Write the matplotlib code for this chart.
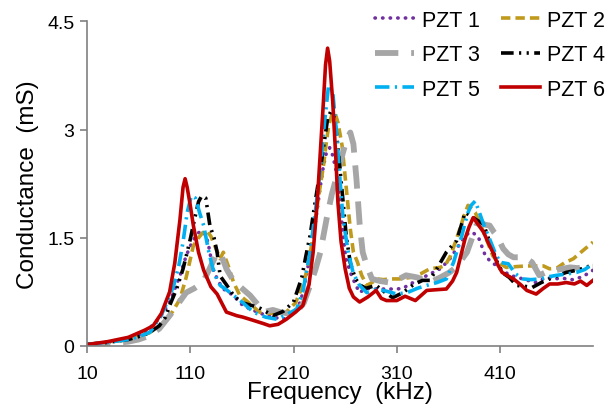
import numpy as np
import matplotlib
matplotlib.use("Agg")
import matplotlib.pyplot as plt

plt.rcParams['font.family'] = ['Liberation Sans', 'DejaVu Sans']

# PZT 1 (purple, dotted)
f1 = [10, 30, 50, 60, 70, 80, 90, 100, 106, 112, 118, 122, 127, 132, 137, 142, 148, 155, 161, 170, 184, 200, 210, 217, 222, 228, 233, 236, 239, 242, 245, 248, 251, 253, 256, 258, 261, 265, 270, 274, 280, 287, 294, 303, 310, 316, 323, 332, 342, 350, 355, 362, 368, 374, 379, 383, 389, 395, 400, 407, 414, 420, 432, 444, 455, 462, 470, 480, 490, 500]
v1 = [0.02, 0.05, 0.10, 0.15, 0.24, 0.38, 0.61, 0.97, 1.25, 1.45, 1.57, 1.60, 1.45, 1.07, 0.90, 0.79, 0.74, 0.65, 0.56, 0.50, 0.42, 0.37, 0.45, 0.62, 0.95, 1.40, 1.90, 2.22, 2.50, 2.69, 2.75, 2.64, 2.45, 2.22, 1.85, 1.53, 1.20, 1.02, 0.85, 0.74, 0.80, 0.79, 0.79, 0.79, 0.79, 0.80, 0.86, 0.92, 1.00, 1.05, 1.11, 1.22, 1.35, 1.48, 1.56, 1.58, 1.51, 1.28, 1.18, 1.11, 1.03, 0.98, 0.93, 0.88, 0.95, 0.93, 0.94, 0.92, 0.96, 1.05]

# PZT 2 (gold, dashed)
f2 = [10, 30, 50, 60, 70, 80, 87, 93, 100, 106, 113, 118, 122, 126, 130, 134, 139, 142, 147, 152, 158, 165, 177, 190, 203, 212, 219, 224, 229, 234, 239, 242, 244, 247, 250, 253, 257, 261, 265, 268, 272, 276, 281, 286, 291, 297, 303, 313, 323, 333, 342, 352, 357, 362, 367, 371, 375, 379, 383, 386, 390, 394, 399, 403, 409, 416, 425, 436, 444, 452, 458, 465, 472, 481, 490, 500]
v2 = [0.02, 0.05, 0.09, 0.13, 0.18, 0.27, 0.37, 0.48, 0.65, 0.95, 1.39, 1.50, 1.57, 1.60, 1.52, 1.38, 1.21, 1.30, 1.10, 0.88, 0.70, 0.62, 0.47, 0.45, 0.47, 0.60, 0.84, 1.10, 1.53, 2.05, 2.50, 2.85, 3.05, 3.20, 3.24, 3.10, 2.78, 2.20, 1.62, 1.30, 1.16, 0.98, 0.84, 0.88, 0.93, 0.92, 0.93, 0.93, 0.95, 1.00, 1.07, 1.09, 1.12, 1.25, 1.45, 1.62, 1.80, 1.95, 1.90, 1.85, 1.72, 1.58, 1.40, 1.25, 1.15, 1.09, 1.10, 1.11, 1.11, 1.11, 1.07, 1.08, 1.15, 1.21, 1.32, 1.44]

# PZT 3 (grey, long dash)
f3 = [10, 30, 50, 60, 70, 80, 90, 98, 106, 114, 122, 128, 134, 139, 145, 152, 160, 168, 175, 181, 190, 197, 205, 213, 220, 226, 231, 236, 242, 247, 252, 258, 262, 265, 268, 271, 274, 277, 281, 286, 294, 303, 311, 319, 330, 342, 352, 361, 368, 373, 378, 383, 387, 392, 396, 400, 404, 407, 413, 418, 423, 428, 432, 437, 441, 448, 454, 461, 470, 478, 485, 491, 500]
v3 = [0.01, 0.03, 0.06, 0.09, 0.14, 0.24, 0.42, 0.58, 0.74, 0.80, 0.88, 1.05, 1.23, 1.30, 1.07, 0.90, 0.80, 0.70, 0.58, 0.47, 0.50, 0.47, 0.45, 0.47, 0.60, 0.84, 1.05, 1.30, 1.76, 2.10, 2.36, 2.69, 2.88, 2.96, 2.80, 2.30, 1.70, 1.30, 1.11, 0.93, 0.90, 0.88, 0.92, 0.98, 0.95, 0.88, 0.95, 1.02, 1.10, 1.20, 1.30, 1.50, 1.67, 1.70, 1.68, 1.67, 1.58, 1.53, 1.35, 1.27, 1.23, 1.23, 1.23, 1.20, 1.16, 0.98, 1.02, 1.04, 1.07, 1.09, 1.08, 1.09, 1.10]

# PZT 4 (black, dash-dot-dot)
f4 = [10, 30, 50, 60, 70, 80, 86, 90, 97, 103, 107, 110, 114, 118, 121, 125, 129, 133, 136, 139, 145, 152, 160, 170, 178, 190, 200, 210, 218, 222, 226, 231, 236, 240, 243, 246, 249, 252, 255, 258, 261, 265, 270, 275, 280, 285, 290, 298, 306, 316, 326, 335, 342, 350, 358, 364, 368, 372, 376, 380, 387, 394, 400, 406, 412, 419, 426, 433, 441, 450, 458, 466, 474, 484, 494, 500]
v4 = [0.02, 0.05, 0.09, 0.13, 0.18, 0.28, 0.40, 0.56, 0.80, 1.07, 1.30, 1.48, 1.75, 2.00, 2.08, 2.05, 1.67, 1.50, 1.30, 0.97, 0.85, 0.70, 0.60, 0.56, 0.52, 0.42, 0.48, 0.61, 0.95, 1.25, 1.53, 2.00, 2.45, 2.85, 3.15, 3.25, 3.20, 2.90, 2.45, 2.00, 1.53, 1.15, 0.93, 0.84, 0.80, 0.82, 0.84, 0.75, 0.67, 0.74, 0.85, 0.91, 0.91, 1.10, 1.30, 1.40, 1.46, 1.65, 1.85, 1.82, 1.75, 1.69, 1.44, 1.20, 1.02, 0.95, 0.84, 0.83, 0.81, 0.88, 0.93, 0.98, 1.02, 1.05, 1.09, 1.14]

# PZT 5 (light blue, long dash dot)
f5 = [10, 30, 50, 60, 71, 81, 88, 94, 99, 103, 107, 111, 115, 119, 123, 128, 132, 135, 139, 145, 152, 161, 171, 183, 194, 204, 213, 219, 226, 231, 236, 240, 244, 248, 252, 255, 258, 263, 268, 274, 281, 290, 300, 310, 320, 330, 339, 349, 358, 365, 369, 373, 376, 379, 382, 386, 390, 395, 400, 405, 410, 418, 425, 432, 440, 449, 457, 465, 475, 484, 492, 500]
v5 = [0.02, 0.05, 0.09, 0.13, 0.19, 0.40, 0.62, 0.84, 1.12, 1.44, 1.85, 2.08, 2.05, 1.85, 1.67, 1.30, 1.07, 0.95, 0.84, 0.78, 0.70, 0.60, 0.47, 0.40, 0.37, 0.44, 0.51, 0.75, 1.30, 1.85, 2.45, 3.10, 3.62, 3.52, 2.90, 2.30, 1.76, 1.30, 1.00, 0.84, 0.74, 0.79, 0.76, 0.72, 0.74, 0.80, 0.84, 0.88, 0.93, 1.16, 1.35, 1.53, 1.70, 1.85, 1.95, 2.01, 1.85, 1.65, 1.48, 1.30, 1.16, 1.14, 1.00, 0.93, 0.92, 0.93, 0.96, 0.98, 1.00, 1.02, 1.06, 1.14]

# PZT 6 (red, solid)
f6 = [10, 30, 50, 58, 66, 74, 82, 90, 95, 100, 103, 105, 107, 110, 113, 118, 123, 130, 136, 145, 155, 161, 170, 181, 187, 195, 203, 212, 219, 225, 229, 233, 236, 239, 241, 243, 245, 248, 251, 253, 256, 260, 264, 268, 274, 282, 290, 295, 300, 310, 318, 328, 339, 348, 358, 364, 368, 372, 376, 380, 384, 388, 394, 398, 403, 408, 412, 418, 423, 430, 436, 445, 452, 458, 466, 474, 482, 488, 494, 500]
v6 = [0.02, 0.06, 0.12, 0.17, 0.22, 0.28, 0.45, 0.75, 1.15, 1.75, 2.20, 2.32, 2.20, 1.95, 1.67, 1.30, 1.05, 0.82, 0.72, 0.47, 0.42, 0.40, 0.36, 0.31, 0.28, 0.30, 0.37, 0.47, 0.56, 0.85, 1.30, 2.00, 2.70, 3.40, 3.90, 4.13, 3.95, 3.38, 2.60, 1.99, 1.45, 1.07, 0.80, 0.68, 0.61, 0.68, 0.77, 0.66, 0.63, 0.63, 0.69, 0.63, 0.77, 0.78, 0.79, 0.90, 1.02, 1.25, 1.48, 1.65, 1.78, 1.70, 1.58, 1.45, 1.30, 1.12, 1.02, 0.97, 0.93, 0.85, 0.77, 0.72, 0.80, 0.86, 0.86, 0.88, 0.86, 0.90, 0.84, 0.91]

labels = ['PZT 1', 'PZT 2', 'PZT 3', 'PZT 4', 'PZT 5', 'PZT 6']
x_ticks = [10, 110, 210, 310, 410]
y_ticks = [0, 1.5, 3, 4.5]
y_tick_labels = ['0', '1.5', '3', '4.5']

fig = plt.figure(figsize=(6.11, 4.10), dpi=100)
ax = fig.add_axes([0.1424, 0.1537, 0.8281, 0.7915])

lines = []
l, = ax.plot(f1, v1, color='#7030A0', lw=2.6, linestyle=(0, (0.1, 2.0)), dash_capstyle='round')
lines.append(l)
l, = ax.plot(f2, v2, color='#C09A1C', lw=2.6, linestyle=(0, (2.6, 1.4)))
lines.append(l)
l, = ax.plot(f3, v3, color='#A6A6A6', lw=4.2, linestyle=(0, (4.0, 2.2)))
lines.append(l)
l, = ax.plot(f4, v4, color='black', lw=2.6, linestyle=(0, (3.5, 1.5, 0.6, 1.5, 0.6, 1.5)))
lines.append(l)
l, = ax.plot(f5, v5, color='#00B0F0', lw=2.6, linestyle=(0, (4.0, 1.5, 0.6, 1.5)))
lines.append(l)
l, = ax.plot(f6, v6, color='#C00000', lw=2.6, linestyle='-')
lines.append(l)

ax.set_xlim(10, 500)
ax.set_ylim(0, 4.5)
ax.set_xticks(x_ticks)
ax.set_yticks(y_ticks)
ax.set_yticklabels(y_tick_labels)
ax.tick_params(axis='both', labelsize=14, length=5, width=1.2, color='#808080', pad=4)
ax.tick_params(axis='x', pad=9)
for side in ['top', 'right']:
    ax.spines[side].set_visible(False)
for side in ['left', 'bottom']:
    ax.spines[side].set_color('#808080')
    ax.spines[side].set_linewidth(1.2)

ax.set_xlabel('Frequency  (kHz)', fontsize=17.5, labelpad=-1)
ax.set_ylabel('Conductance  (mS)', fontsize=17.5, labelpad=6)

# legend is filled column by column, so reorder to get PZT 1 | PZT 2 on the first row
leg = ax.legend([lines[i] for i in [0, 2, 4, 1, 3, 5]],
                [labels[i] for i in [0, 2, 4, 1, 3, 5]],
                ncol=2, frameon=False, fontsize=15.5,
                loc='upper right', bbox_to_anchor=(1.012, 1.005),
                bbox_transform=fig.transFigure, borderpad=0.1,
                handlelength=1.8, handletextpad=0.35, columnspacing=1.0,
                labelspacing=0.62)

fig.savefig('out.png', dpi=100)
